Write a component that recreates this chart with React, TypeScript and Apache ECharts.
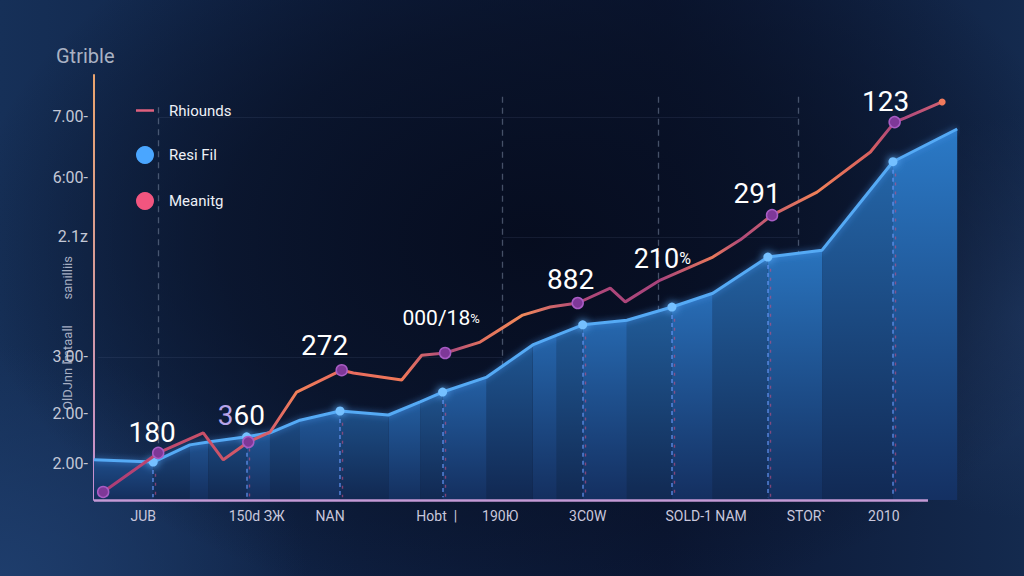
import React, { useEffect, useRef } from "react";
import * as echarts from "echarts";

// ---------- data ----------
const TITLE = "Gtrible";
const Y_AXIS_NAME = "OlDJnn lmtaall        sanilliis";
const LINE_NAME = "Rhiounds";
const AREA_NAME = "Resi Fil";
const DOT_NAME = "Meanitg";

const xTickValues = [5.9, 19.5, 28.3, 41.1, 48.7, 59.2, 73.4, 85.4, 94.7];
const xTickLabels = ["JUB", "150d ЗЖ", "NAN", "Hobt  |", "190Ю", "3C0W", "SOLD-1 NAM", "STOR`", "2010"];

const yTickValues = [0.64, 1.51, 2.49, 4.58, 5.61, 6.67];
const yTickLabels = ["2.00-", "2.00-", "3.00-", "2.1z", "6:00-", "7.00-"];

// blue area ("Resi Fil")
const resiX = [0, 7.1, 11.5, 13.7, 18.3, 21.1, 24.7, 29.5, 35.3, 39.1, 41.8, 47.1, 52.6, 55.5, 58.6, 63.9, 69.3, 74.2, 80.8, 87.3, 95.8, 103.5];
const resiY = [0.70, 0.66, 0.96, 1.01, 1.10, 1.17, 1.39, 1.55, 1.48, 1.71, 1.88, 2.14, 2.70, 2.87, 3.05, 3.13, 3.36, 3.60, 4.23, 4.35, 5.89, 6.46];
const resiDotIdx = [1, 4, 7, 10, 14, 16, 18, 20];

// pink/orange line ("Rhiounds")
const rhX = [1.1, 7.7, 13.1, 15.5, 18.5, 21.1, 24.3, 29.7, 31.1, 36.9, 39.3, 42.1, 46.3, 51.4, 54.7, 58.0, 61.9, 63.7, 67.9, 74.2, 77.5, 81.3, 86.7, 93.1, 96.0, 97.2, 101.7];
const rhY = [0.14, 0.82, 1.17, 0.70, 1.01, 1.18, 1.88, 2.26, 2.21, 2.09, 2.52, 2.56, 2.75, 3.22, 3.36, 3.43, 3.69, 3.45, 3.83, 4.23, 4.53, 4.96, 5.36, 6.06, 6.58, 6.65, 6.93];

// labelled points ("Meanitg")
const meaningIdx = [0, 1, 4, 7, 11, 15, 18, 21, 24];
const meaningLabels = ["", "180", "360", "272", "000/18%", "882", "210%", "291", "123"];
const meaningHasDot = [true, true, true, true, true, true, false, true, true];

// axis extents
const X_MAX = 103.6;
const AXIS_END = 100;
const Y_MAX = 7.4;

// dashed guide lines (x positions, top value)
const guideX = [7.67, 49.0, 67.6, 84.4];
const guideTop = [6.84, 7.02, 7.02, 7.02];
// faint horizontal lines: [y, xFrom, xTo]
const faintY = [6.67, 4.58, 2.49];
const faintFrom = [7.7, 49.0, 0.5];
const faintTo = [84.4, 84.4, 49.0];

// ---------- styles ----------
const FONT = "Roboto, 'Noto Sans', sans-serif";
const labelLayout: any[] = [
  null,
  { dx: -6, dist: 0, size: 28 },
  { dx: -7, dist: 6, size: 28 },
  { dx: -17, dist: 4, size: 28 },
  { dx: -4, dist: 18, size: 21 },
  { dx: -7, dist: 3, size: 28 },
  { dx: 2, dist: 8, size: 27 },
  { dx: -15, dist: 1, size: 28 },
  { dx: -9, dist: 0, size: 28 },
];

const PINK_STOPS: [number, string][] = [
  [0, "#a83c78"],
  [0.066, "#c04870"],
  [0.12, "#c85068"],
  [0.2, "#d8606a"],
  [0.23, "#f08058"],
  [0.285, "#e86a60"],
  [0.356, "#f07858"],
  [0.41, "#a84880"],
  [0.45, "#e0705e"],
  [0.5, "#f0885a"],
  [0.566, "#b04878"],
  [0.664, "#a8447c"],
  [0.727, "#e8785a"],
  [0.76, "#b04a7a"],
  [0.85, "#f08058"],
  [0.914, "#d8605e"],
  [0.944, "#a84480"],
  [1, "#d06070"],
];

function rgb(a: number[]) {
  return `rgb(${a.map((v) => Math.round(v)).join(",")})`;
}

export default function App() {
  const ref = useRef<HTMLDivElement>(null);

  useEffect(() => {
    if (!ref.current) return;
    const chart = echarts.init(ref.current, null, { renderer: "svg" });

    const resiData = resiX.map((x, i) => [x, resiY[i]]);
    const rhData = rhX.map((x, i) => [x, rhY[i]]);
    const bands = resiX.slice(0, -1).map((x, i) => [x, resiY[i], resiX[i + 1], resiY[i + 1], i]);

    const meaningData = meaningIdx.map((idx, k) => {
      const lay = labelLayout[k];
      const txt = meaningLabels[k];
      let fmt = txt;
      if (txt.endsWith("%")) fmt = `${txt.slice(0, -1)}{p|%}`;
      else if (txt === "360") fmt = `{a|3}60`;
      return {
        value: [rhX[idx], rhY[idx]],
        symbolSize: meaningHasDot[k] ? 11 : 0,
        label: lay
          ? {
              show: true,
              position: "top",
              distance: lay.dist,
              offset: [lay.dx, 0],
              formatter: fmt,
              color: "#ffffff",
              fontSize: lay.size,
              fontFamily: FONT,
              rich: {
                p: { fontSize: Math.round(lay.size * 0.6), color: "#ffffff", fontFamily: FONT },
                a: { fontSize: lay.size, color: "#b8a4e8", fontFamily: FONT },
              },
            }
          : { show: false },
      };
    });

    const blueDots = resiDotIdx.map((i) => [resiX[i], resiY[i]]);
    const glitter: any[] = [];
    resiDotIdx.forEach((i) => {
      glitter.push([
        { coord: [resiX[i], resiY[i]], lineStyle: { color: "rgba(100,150,245,0.75)", type: [4, 4], width: 1.6 } },
        { coord: [resiX[i], 0.05] },
      ]);
      glitter.push([
        { coord: [resiX[i] + 0.3, resiY[i] - 0.1], lineStyle: { color: "rgba(200,80,130,0.6)", type: [3, 6], dashOffset: 3, width: 1.4 } },
        { coord: [resiX[i] + 0.3, 0.05] },
      ]);
    });

    const guides: any[] = guideX.map((x, i) => [
      { coord: [x, guideTop[i]], lineStyle: { color: "rgba(120,135,160,0.55)", type: [6, 5], width: 1.3 } },
      { coord: [x, 0] },
    ]);
    faintY.forEach((y, i) => {
      guides.push([
        { coord: [faintFrom[i], y], lineStyle: { color: "rgba(120,140,180,0.12)", type: "solid", width: 1 } },
        { coord: [faintTo[i], y] },
      ]);
    });

    const option: any = {
      animation: false,
      backgroundColor: "transparent",
      title: {
        text: TITLE,
        left: 51,
        top: 41,
        textStyle: { color: "#aab2c3", fontSize: 20, fontWeight: "normal", fontFamily: FONT },
      },
      legend: {
        orient: "vertical",
        left: 131,
        top: 98,
        itemWidth: 18,
        itemHeight: 18,
        itemGap: 28,
        selectedMode: false,
        textStyle: { color: "#eef1f7", fontSize: 15, fontFamily: FONT, padding: [0, 0, 0, 10] },
        data: [
          { name: LINE_NAME, icon: "path://M0,0L18,0L18,2.5L0,2.5Z", itemStyle: { color: "#e0607e", opacity: 1 } },
          { name: AREA_NAME, icon: "circle", itemStyle: { color: "#4aa6ff", opacity: 1 } },
          { name: DOT_NAME, icon: "circle", itemStyle: { color: "#f2557f", opacity: 1 } },
        ],
      },
      grid: { left: 94, right: 66, top: 75, bottom: 76, containLabel: false, outerBoundsMode: "none" },
      xAxis: {
        type: "value",
        min: 0,
        max: X_MAX,
        axisLine: { show: false },
        axisTick: { show: false },
        splitLine: { show: false },
        axisLabel: {
          customValues: xTickValues,
          formatter: (v: number) => {
            const i = xTickValues.findIndex((t) => Math.abs(t - v) < 1e-6);
            return i >= 0 ? xTickLabels[i] : "";
          },
          color: "#c9c7dc",
          fontSize: 14,
          fontFamily: FONT,
          margin: 9,
        },
      },
      yAxis: {
        type: "value",
        min: 0,
        max: Y_MAX,
        axisLine: {
          show: true,
          lineStyle: {
            width: 2,
            color: new echarts.graphic.LinearGradient(
              0, 75, 0, 500,
              [
                { offset: 0, color: "#eaa46e" },
                { offset: 0.5, color: "#d59a9a" },
                { offset: 1, color: "#c48fd4" },
              ],
              true
            ),
          },
        },
        axisTick: { show: false },
        splitLine: { show: false },
        axisLabel: {
          customValues: yTickValues,
          formatter: (v: number) => {
            const i = yTickValues.findIndex((t) => Math.abs(t - v) < 1e-6);
            return i >= 0 ? yTickLabels[i] : "";
          },
          color: "#c4c8d6",
          fontSize: 16,
          fontFamily: FONT,
          margin: 6,
        },
      },
      graphic: [
        {
          type: "text",
          x: 67,
          y: 333,
          rotation: Math.PI / 2,
          style: {
            text: Y_AXIS_NAME,
            fill: "#a7afc3",
            font: `13px ${FONT}`,
            textAlign: "center",
            textVerticalAlign: "middle",
            align: "center",
            verticalAlign: "middle",
          },
        },
      ],
      series: [
        {
          name: "guides",
          type: "line",
          z: 1,
          data: [[0, 0]],
          symbol: "none",
          lineStyle: { opacity: 0 },
          markLine: { z: 1, silent: true, symbol: "none", label: { show: false }, data: guides },
        },
        {
          name: "bands",
          type: "custom",
          z: 2,
          clip: false,
          data: bands,
          renderItem: (params: any, api: any) => {
            const x0 = api.value(0), y0 = api.value(1), x1 = api.value(2), y1 = api.value(3), i = api.value(4);
            const p0 = api.coord([x0, y0]);
            const p1 = api.coord([x1, y1]);
            const b0 = api.coord([x0, 0]);
            const b1 = api.coord([x1, 0]);
            const t = Math.min(1, x0 / 100);
            const odd = i % 2 === 1;
            const k = odd ? 0.86 : 1;
            const top = [30 + 14 * t, 76 + 48 * t, 136 + 66 * t].map((v) => v * k);
            const bot = [20, 46 + 2 * t, 92 + 6 * t].map((v) => v * k);
            return {
              type: "polygon",
              shape: { points: [p0, p1, b1, b0] },
              style: {
                fill: new echarts.graphic.LinearGradient(0, 0, 0, 1, [
                  { offset: 0, color: rgb(top) },
                  { offset: 1, color: rgb(bot) },
                ]),
                stroke: "none",
              },
            };
          },
        },
        {
          name: "baseline",
          type: "line",
          z: 3,
          data: [[0, 0]],
          symbol: "none",
          lineStyle: { opacity: 0 },
          markLine: {
            z: 3,
            silent: true,
            symbol: "none",
            label: { show: false },
            data: [[{ coord: [0, 0], lineStyle: { color: "#c49ad6", width: 2.5, type: "solid" } }, { coord: [AXIS_END, 0] }]],
          },
        },
        {
          name: AREA_NAME,
          type: "line",
          z: 3,
          data: resiData,
          symbol: "none",
          lineStyle: { color: "#55aaf5", width: 3, shadowColor: "rgba(80,160,255,0.6)", shadowBlur: 6 },
          itemStyle: { color: "#4aa6ff" },
        },
        {
          name: "blueDots",
          type: "scatter",
          z: 4,
          data: blueDots,
          symbolSize: 9,
          itemStyle: { color: "#74c0ff", opacity: 1, shadowColor: "#5fb0ff", shadowBlur: 8 },
          markLine: { z: 3, silent: true, symbol: "none", label: { show: false }, data: glitter },
        },
        {
          name: LINE_NAME,
          type: "line",
          z: 5,
          data: rhData,
          symbol: "none",
          lineStyle: {
            width: 3,
            color: new echarts.graphic.LinearGradient(
              0, 0, 1, 0,
              PINK_STOPS.map(([offset, color]) => ({ offset, color }))
            ),
          },
          itemStyle: { color: "#e0607e" },
        },
        {
          name: "endDot",
          type: "scatter",
          z: 6,
          data: [[rhX[rhX.length - 1], rhY[rhY.length - 1]]],
          symbolSize: 7,
          itemStyle: { color: "#f07a5c", opacity: 1 },
        },
        {
          name: DOT_NAME,
          type: "scatter",
          z: 7,
          data: [],
          itemStyle: { color: "#f2557f", opacity: 1 },
        },
        {
          name: "meaningPts",
          type: "scatter",
          z: 7,
          data: meaningData,
          itemStyle: { color: "#7e3898", opacity: 1, borderColor: "#a85cc4", borderWidth: 1.5 },
        },
      ],
    };

    chart.setOption(option);
    return () => chart.dispose();
  }, []);

  return (
    <div
      style={{
        position: "fixed",
        left: 0,
        top: 0,
        width: 1024,
        height: 576,
        overflow: "hidden",
        background:
          "radial-gradient(ellipse 55% 65% at 52% 42%, rgba(6,12,30,0.95) 0%, rgba(8,16,36,0.7) 55%, rgba(8,16,36,0) 100%)," +
          "radial-gradient(ellipse 30% 40% at 0% 100%, #1e3d6c 0%, rgba(30,61,108,0) 100%)," +
          "radial-gradient(ellipse 20% 35% at 100% 55%, #1e3760 0%, rgba(30,55,96,0) 100%)," +
          "linear-gradient(90deg, #163058 0%, #0e1f40 35%, #0b1734 65%, #142a4e 100%)",
      }}
    >
      <div ref={ref} style={{ width: 1024, height: 576 }} />
    </div>
  );
}
